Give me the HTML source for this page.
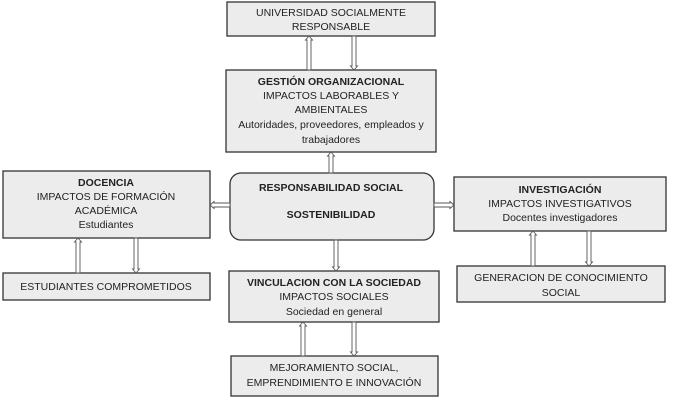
<!DOCTYPE html>
<html><head><meta charset="utf-8"><style>
body{margin:0;width:680px;height:414px;background:#fff;overflow:hidden}
svg{display:block}
text{font-family:"Liberation Sans",sans-serif;font-size:10.5px;fill:#222;text-anchor:middle}
.b{font-weight:bold}
rect.box{fill:#ececec;stroke:#333;stroke-width:1.3}
</style></head><body>
<svg width="680" height="414" viewBox="0 0 680 414">
<defs>
<g id="au"><path d="M-2,0 V-14 H-4 L0,-20 L4,-14 H2 V0 Z" fill="#fff" stroke="#555" stroke-width="0.9"/></g>
</defs>
<!-- boxes -->
<rect class="box" x="227" y="2" width="208" height="34"/>
<text x="331" y="16">UNIVERSIDAD SOCIALMENTE</text>
<text x="331" y="30">RESPONSABLE</text>

<rect class="box" x="226" y="70" width="210" height="82"/>
<text x="331" y="85" class="b">GESTIÓN ORGANIZACIONAL</text>
<text x="331" y="99">IMPACTOS LABORABLES Y</text>
<text x="331" y="113">AMBIENTALES</text>
<text x="331" y="128">Autoridades, proveedores, empleados y</text>
<text x="331" y="143">trabajadores</text>

<rect class="box" x="230" y="173" width="204" height="67" rx="11"/>
<text x="331" y="191" class="b">RESPONSABILIDAD SOCIAL</text>
<text x="331" y="218" class="b">SOSTENIBILIDAD</text>

<rect class="box" x="3" y="171" width="207" height="67"/>
<text x="106" y="186" class="b">DOCENCIA</text>
<text x="106" y="200">IMPACTOS DE FORMACIÓN</text>
<text x="106" y="214">ACADÉMICA</text>
<text x="106" y="228">Estudiantes</text>

<rect class="box" x="3" y="273" width="207" height="27"/>
<text x="106" y="290">ESTUDIANTES COMPROMETIDOS</text>

<rect class="box" x="454" y="177" width="212" height="54"/>
<text x="560" y="193" class="b">INVESTIGACIÓN</text>
<text x="560" y="207">IMPACTOS INVESTIGATIVOS</text>
<text x="560" y="221">Docentes investigadores</text>

<rect class="box" x="457" y="266" width="208" height="36"/>
<text x="561" y="281">GENERACION DE CONOCIMIENTO</text>
<text x="561" y="296">SOCIAL</text>

<rect class="box" x="229" y="271" width="210" height="51"/>
<text x="334" y="286" class="b">VINCULACION CON LA SOCIEDAD</text>
<text x="334" y="300">IMPACTOS SOCIALES</text>
<text x="334" y="315">Sociedad en general</text>

<rect class="box" x="231" y="356" width="207" height="40"/>
<text x="334" y="371">MEJORAMIENTO SOCIAL,</text>
<text x="334" y="386">EMPRENDIMIENTO E INNOVACIÓN</text>

<!-- arrows -->
<g fill="#fff" stroke="#555" stroke-width="0.9">
<!-- vertical up arrow template: shaft x-2..x+2 -->
<path d="M307,70 V40 H305.5 L309,36 L312.5,40 H311 V70 Z"/>
<path d="M352,36 V66 H350.5 L354,70 L357.5,66 H356 V36 Z"/>
<path d="M329,173 V156 H327.5 L331,152 L334.5,156 H333 V173 Z"/>
<path d="M334,240 V267 H332.5 L336,271 L339.5,267 H338 V240 Z"/>
<path d="M76,273 V242 H74.5 L78,238 L81.5,242 H80 V273 Z"/>
<path d="M134,238 V269 H132.5 L136,273 L139.5,269 H138 V238 Z"/>
<path d="M301,356 V326 H299.5 L303,322 L306.5,326 H305 V356 Z"/>
<path d="M352,322 V352 H350.5 L354,356 L357.5,352 H356 V322 Z"/>
<path d="M531,266 V235 H529.5 L533,231 L536.5,235 H535 V266 Z"/>
<path d="M587,231 V262 H585.5 L589,266 L592.5,262 H591 V231 Z"/>
<path d="M230,203 H214 V201.5 L210,205 L214,208.5 V207 H230 Z"/>
<path d="M434,203 H450 V201.5 L454,205 L450,208.5 V207 H434 Z"/>
</g>
</svg>
</body></html>
